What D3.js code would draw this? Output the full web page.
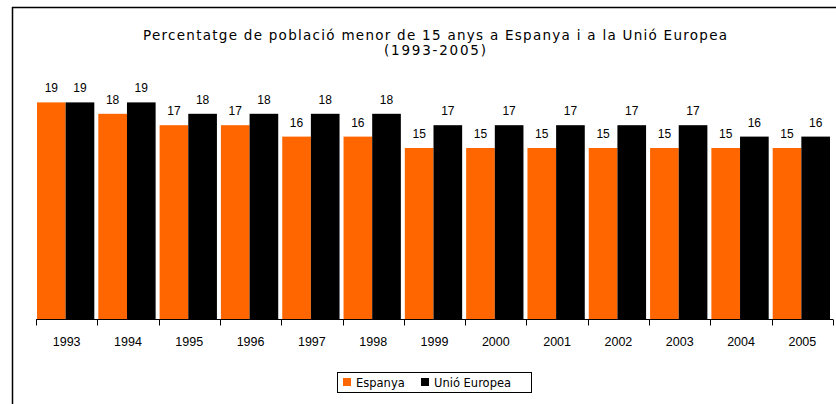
<!DOCTYPE html>
<html lang="ca">
<head>
  <meta charset="UTF-8">
  <title>Percentatge de població menor de 15 anys</title>
  <style>
    body { margin: 0; background: #fff; }
    svg text { fill: #000; }
  </style>
  <script src="https://d3js.org/d3.v7.min.js"></script>
</head>
<body>
<script>
  // dades llegides del gràfic
  const years = ["1993", "1994", "1995", "1996", "1997", "1998", "1999", "2000", "2001", "2002", "2003", "2004", "2005"];
  const espanya = [19, 18, 17, 17, 16, 16, 15, 15, 15, 15, 15, 15, 15];
  const unioEuropea = [19, 19, 18, 18, 18, 18, 17, 17, 17, 17, 17, 16, 16];
  const seriesNames = ["Espanya", "Unió Europea"];
  const colors = ["#ff6600", "#000000"];

  const width = 836, height = 404;
  const svg = d3.select("body").append("svg")
    .attr("width", width)
    .attr("height", height);

  // marc (només dalt i esquerra són visibles)
  svg.append("line").attr("x1", 12).attr("y1", 7.5).attr("x2", width).attr("y2", 7.5)
    .attr("stroke", "#000").attr("stroke-width", 1.5);
  svg.append("line").attr("x1", 12.5).attr("y1", 7).attr("x2", 12.5).attr("y2", height)
    .attr("stroke", "#000").attr("stroke-width", 1.5);

  // títol
  const title = svg.append("text")
    .attr("text-anchor", "middle")
    .style("font-family", "'DejaVu Sans', Verdana, sans-serif")
    .style("font-size", "13.5px");
  title.append("tspan").attr("x", 435).attr("y", 40)
    .attr("textLength", 584).attr("lengthAdjust", "spacing")
    .text("Percentatge de població menor de 15 anys a Espanya i a la Unió Europea");
  title.append("tspan").attr("x", 435).attr("y", 55)
    .attr("textLength", 102).attr("lengthAdjust", "spacing")
    .text("(1993-2005)");

  const x0 = d3.scaleBand().domain(years).range([36, 833]).padding(0);
  const y = d3.scaleLinear().domain([0, 20]).range([319, 91]);

  const gap = 4;
  const barW = (x0.step() - gap) / 2;

  const data = years.map((yr, i) => ({ year: yr, values: [espanya[i], unioEuropea[i]] }));

  const groups = svg.append("g").selectAll("g")
    .data(data)
    .join("g")
    .attr("transform", d => `translate(${x0(d.year) + 1},0)`);

  groups.selectAll("rect")
    .data(d => d.values.map((v, k) => ({ v, k })))
    .join("rect")
    .attr("x", d => d.k * barW)
    .attr("y", d => y(d.v))
    .attr("width", barW)
    .attr("height", d => y(0) - y(d.v))
    .attr("fill", d => colors[d.k]);

  groups.selectAll("text")
    .data(d => d.values.map((v, k) => ({ v, k })))
    .join("text")
    .attr("x", d => d.k * barW + barW / 2)
    .attr("y", d => y(d.v) - 10)
    .attr("text-anchor", "middle")
    .style("font-family", "'Liberation Sans', Arial, sans-serif")
    .style("font-size", "12px")
    .text(d => d.v);

  // eix X
  const axis = svg.append("g").attr("transform", "translate(0,319.5)");
  axis.append("line").attr("x1", 36).attr("x2", 833).attr("stroke", "#000");
  axis.selectAll("line.tick")
    .data(years.map(yr => x0(yr)).concat([833]))
    .join("line")
    .attr("class", "tick")
    .attr("x1", d => Math.round(d) + 0.5).attr("x2", d => Math.round(d) + 0.5)
    .attr("y1", 0).attr("y2", 6)
    .attr("stroke", "#000");
  axis.selectAll("text")
    .data(years)
    .join("text")
    .attr("x", d => x0(d) + x0.bandwidth() / 2)
    .attr("y", 26.5)
    .attr("text-anchor", "middle")
    .style("font-family", "'Liberation Sans', Arial, sans-serif")
    .style("font-size", "12.5px")
    .text(d => d);

  // llegenda
  const legend = svg.append("g");
  legend.append("rect")
    .attr("x", 337.5).attr("y", 372.5).attr("width", 194).attr("height", 20)
    .attr("fill", "#fff").attr("stroke", "#000");
  const legX = [343, 421];
  const items = legend.selectAll("g.item")
    .data(seriesNames)
    .join("g")
    .attr("class", "item")
    .attr("transform", (d, i) => `translate(${legX[i]},378)`);
  items.append("rect")
    .attr("width", 8).attr("height", 8)
    .attr("fill", (d, i) => colors[i]);
  items.append("text")
    .attr("x", 13).attr("y", 8.5)
    .style("font-family", "'DejaVu Sans', Verdana, sans-serif")
    .style("font-size", "11.5px")
    .text(d => d);
</script>
</body>
</html>
